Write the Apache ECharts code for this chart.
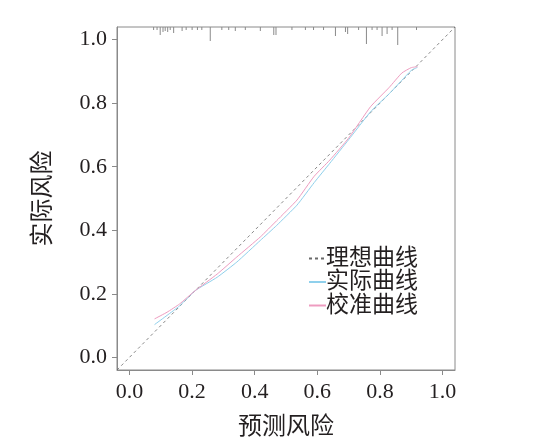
<!DOCTYPE html>
<html>
<head>
<meta charset="utf-8">
<script src="https://cdn.jsdelivr.net/npm/echarts@6/dist/echarts.min.js"></script>
<style>html,body{margin:0;padding:0;background:#fff;}#c{width:535px;height:447px;}</style>
</head>
<body>
<div id="c"></div>
<script>
// ---- data ----
var tickValues = [0, 0.2, 0.4, 0.6, 0.8, 1.0];
var idealX = [-0.04, 1.04];
var predX = [0.08, 0.12, 0.16, 0.21, 0.28, 0.343, 0.418, 0.47, 0.535, 0.59, 0.64, 0.70, 0.77, 0.83, 0.87, 0.90, 0.92];
var actualY = [0.103, 0.132, 0.162, 0.21, 0.252, 0.30, 0.368, 0.415, 0.479, 0.55, 0.611, 0.685, 0.773, 0.83, 0.872, 0.903, 0.913];
var calibY  = [0.121, 0.142, 0.168, 0.21, 0.262, 0.316, 0.379, 0.43, 0.495, 0.57, 0.621, 0.69, 0.789, 0.85, 0.895, 0.912, 0.915];
var rugX = [0.077, 0.088, 0.098, 0.107, 0.114, 0.122, 0.130, 0.141, 0.168, 0.181, 0.200, 0.217, 0.231, 0.258, 0.295, 0.317, 0.338, 0.370, 0.418, 0.461, 0.468, 0.519, 0.562, 0.588, 0.620, 0.658, 0.690, 0.697, 0.732, 0.757, 0.775, 0.791, 0.807, 0.823, 0.839, 0.857, 0.917];
var rugCount = [3, 3, 8, 5, 4, 5, 3, 6, 4, 3, 3, 3, 3, 14, 3, 3, 4, 3, 4, 8, 8, 3, 3, 3, 3, 9, 5, 7, 3, 17, 3, 3, 9, 7, 3, 18, 3];
var legendNames = ['理想曲线', '实际曲线', '校准曲线'];
var xTitle = '预测风险';
var yTitle = '实际风险';

// ---- chart ----
var AXMIN = -0.04, AXMAX = 1.04;
var RUG_UNIT = 0.00315;
var serif = 'Liberation Serif, Times New Roman, Tinos, Noto Sans CJK SC, serif';
var textColor = '#231f20';
var frameColor = '#8a8a8a';

function zip(a, b) { return a.map(function (v, i) { return [v, b[i]]; }); }

var chart = echarts.init(document.getElementById('c'), null, { renderer: 'canvas' });

function axisCommon(isX) {
  return {
    type: 'value',
    min: AXMIN, max: AXMAX,
    axisLine: { show: true, onZero: false, lineStyle: { color: frameColor, width: 1 } },
    axisTick: { show: true, inside: false, length: 5, customValues: tickValues, lineStyle: { color: frameColor, width: 1 } },
    axisLabel: {
      show: true, customValues: tickValues, margin: isX ? 11 : 10,
      color: textColor, fontFamily: serif, fontSize: 22,
      formatter: function (v) { return v.toFixed(1); }
    },
    splitLine: { show: false },
    nameLocation: 'middle',
    nameTextStyle: { color: textColor, fontFamily: serif, fontSize: 24 }
  };
}

var xAxis = axisCommon(true);
xAxis.name = xTitle; xAxis.nameGap = 46;
var yAxis = axisCommon(false);
yAxis.name = yTitle; yAxis.nameGap = 61;

chart.setOption({
  animation: false,
  backgroundColor: '#fff',
  grid: { left: 117, right: 80, top: 27, bottom: 77, show: true, borderColor: frameColor, borderWidth: 1, backgroundColor: 'transparent' },
  xAxis: xAxis,
  yAxis: yAxis,
  legend: {
    orient: 'vertical', left: 303, top: 242,
    itemWidth: 17, itemHeight: 8, itemGap: 0.5,
    data: legendNames,
    itemStyle: { opacity: 0 },
    textStyle: { color: textColor, fontFamily: serif, fontSize: 23, lineHeight: 22, padding: [0, 0, 0, -5] }
  },
  series: [
    {
      name: legendNames[0], type: 'line', symbol: 'none',
      data: zip(idealX, idealX),
      lineStyle: { color: '#6a6a6a', width: 0.8, type: [3, 3] },
      itemStyle: { color: '#6a6a6a' }, z: 2
    },
    {
      name: legendNames[1], type: 'line', symbol: 'none', smooth: 0.15,
      data: zip(predX, actualY),
      lineStyle: { color: '#8fd0ec', width: 1 },
      itemStyle: { color: '#8fd0ec' }, z: 3
    },
    {
      name: legendNames[2], type: 'line', symbol: 'none', smooth: 0.15,
      data: zip(predX, calibY),
      lineStyle: { color: '#ee9cc0', width: 1 },
      itemStyle: { color: '#ee9cc0' }, z: 4
    },
    {
      type: 'custom', silent: true,
      data: zip(rugX, rugCount),
      renderItem: function (params, api) {
        var x = api.value(0), n = api.value(1);
        var p1 = api.coord([x, AXMAX]);
        var p2 = api.coord([x, AXMAX - n * RUG_UNIT]);
        return { type: 'line', shape: { x1: p1[0], y1: p1[1], x2: p2[0], y2: p2[1] }, style: { stroke: '#8a8a8a', lineWidth: 1 } };
      },
      z: 5
    }
  ]
});
</script>
</body>
</html>
